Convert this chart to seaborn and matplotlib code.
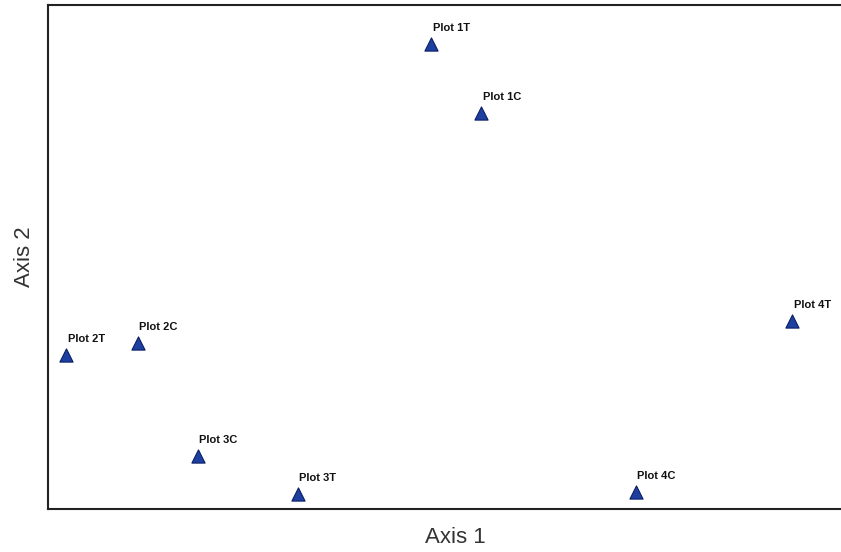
import matplotlib.pyplot as plt
import pandas as pd
import seaborn as sns

# ordination scores (arbitrary units)
plots = ["Plot 1T", "Plot 1C", "Plot 2T", "Plot 2C", "Plot 3C", "Plot 3T", "Plot 4C", "Plot 4T"]
axis1 = [4.83, 5.46, 0.23, 1.13, 1.89, 3.15, 7.41, 9.38]
axis2 = [9.23, 7.86, 3.06, 3.29, 1.05, 0.30, 0.34, 3.73]

df = pd.DataFrame({"plot": plots, "axis1": axis1, "axis2": axis2})

sns.set_style("white")
plt.rcParams["font.family"] = ["Liberation Sans", "DejaVu Sans"]

fig = plt.figure(figsize=(8.41, 5.52), dpi=100)
ax = fig.add_axes([48 / 841, 1 - 509 / 552, 814 / 841, 504 / 552])

sns.scatterplot(data=df, x="axis1", y="axis2", marker="^", s=90,
                color="#1c3fa0", edgecolor="#0b1f66", linewidth=0.8, ax=ax)

for _, row in df.iterrows():
    ax.annotate(row["plot"], (row["axis1"], row["axis2"]), xytext=(1, 8),
                textcoords="offset points", fontsize=8, fontweight="bold",
                ha="left", va="bottom", color="#111111")

ax.set_xlim(0, 10.26)
ax.set_ylim(0, 10)
ax.set_xticks([])
ax.set_yticks([])
for side in ["left", "bottom", "top"]:
    ax.spines[side].set_color("#222222")
    ax.spines[side].set_linewidth(1.5)
ax.spines["right"].set_visible(False)

ax.set_xlabel("Axis 1", fontsize=16, color="#333333", labelpad=13)
ax.set_ylabel("Axis 2", fontsize=16, color="#333333", labelpad=9)

fig.savefig("out.png", dpi=100)
plt.close(fig)
